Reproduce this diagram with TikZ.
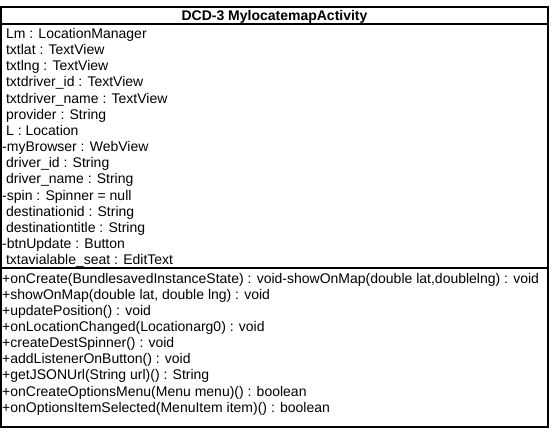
\documentclass[tikz,border=0pt]{standalone}
\usepackage{fontspec}
\setmainfont{Liberation Sans}

\begin{document}
\begin{tikzpicture}[x=1pt, y=-1pt,
    every node/.style={inner sep=0pt, anchor=base west, font=\fontsize{14}{16}\selectfont},
    member/.style={},
    frame/.style={line width=1.3pt}]
      \useasboundingbox (0,0) rectangle (556,433);

      % class box with its three compartments
      \draw[frame] (1,7) rectangle (548,427);
      \draw[frame] (1,24) -- (548,24);
      \draw[frame] (1,268) -- (548,268);

      \node[anchor=base, font=\fontsize{14}{16}\selectfont\bfseries] (title) at (274.5,20.5) {DCD-3 MylocatemapActivity};

      % attributes
      \foreach \txt [count=\i] in {
        {\ Lm : LocationManager},
        {\ txtlat : TextView},
        {\ txtlng : TextView},
        {\ txtdriver\_id : TextView},
        {\ txtdriver\_name : TextView},
        {\ provider : String},
        {\ L : Location},
        {-myBrowser : WebView},
        {\ driver\_id : String},
        {\ driver\_name : String},
        {-spin : Spinner = null},
        {\ destinationid : String},
        {\ destinationtitle : String},
        {-btnUpdate : Button},
        {\ txtavialable\_seat : EditText}}
        \node[member] (attr\i) at (2, 38.5+16.15*\i-16.15) {\txt};

      % operations
      \foreach \txt [count=\i] in {
        {+onCreate(BundlesavedInstanceState) : void-showOnMap(double lat,doublelng) : void},
        {+showOnMap(double lat, double lng) : void},
        {+updatePosition() : void},
        {+onLocationChanged(Locationarg0) : void},
        {+createDestSpinner() : void},
        {+addListenerOnButton() : void},
        {+getJSONUrl(String url)() : String},
        {+onCreateOptionsMenu(Menu menu)() : boolean},
        {+onOptionsItemSelected(MenuItem item)() : boolean}}
        \node[member] (op\i) at (2, 283+16.15*\i-16.15) {\txt};

    \end{tikzpicture}
\end{document}
